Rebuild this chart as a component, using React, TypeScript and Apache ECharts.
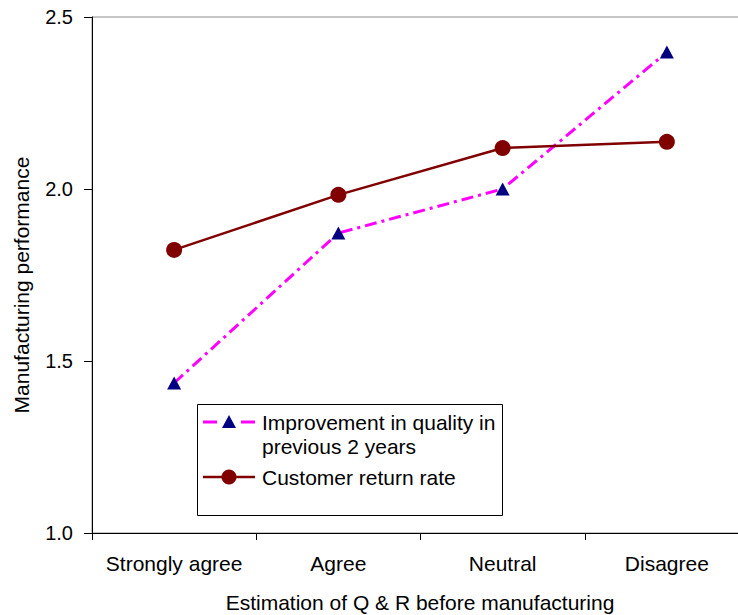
import React, { useEffect, useRef } from "react";
import * as echarts from "echarts";

const categories = ["Strongly agree", "Agree", "Neutral", "Disagree"];
const qualityImprovement = [1.436, 1.872, 2.0, 2.398];
const customerReturnRate = [1.823, 1.983, 2.119, 2.137];
const yTicks = [1.0, 1.5, 2.0, 2.5];

const FONT = "'Liberation Sans', Arial, Helvetica, sans-serif";
const MAGENTA = "#FF00FF";
const NAVY = "#000080";
const DARK_RED = "#800000";

export default function App() {
  const ref = useRef<HTMLDivElement | null>(null);

  useEffect(() => {
    if (!ref.current) return;
    const chart = echarts.init(ref.current, undefined, { renderer: "svg" });

    const legendText = (x: number, y: number, text: string) => ({
      type: "text",
      x,
      y,
      style: {
        text,
        fontFamily: FONT,
        fontSize: 21,
        fill: "#000",
        align: "left",
        verticalAlign: "middle",
      },
    });

    chart.setOption({
      animation: false,
      backgroundColor: "#fff",
      grid: {
        left: 92,
        top: 17,
        right: 11,
        bottom: 82,
        show: true,
        borderColor: "#8c8c8c",
        borderWidth: 1,
      },
      xAxis: {
        type: "category",
        data: categories,
        boundaryGap: true,
        axisLine: { show: true, lineStyle: { color: "#000", width: 1 } },
        axisTick: { show: true, length: 7, lineStyle: { color: "#000" } },
        axisLabel: {
          color: "#000",
          fontFamily: FONT,
          fontSize: 21,
          margin: 20,
          interval: 0,
        },
        splitLine: { show: false },
      },
      yAxis: {
        type: "value",
        min: yTicks[0],
        max: yTicks[yTicks.length - 1],
        interval: 0.5,
        axisLine: { show: true, lineStyle: { color: "#000", width: 1 } },
        axisTick: { show: true, length: 8, lineStyle: { color: "#000" } },
        axisLabel: {
          color: "#000",
          fontFamily: FONT,
          fontSize: 20,
          margin: 19,
          formatter: (v: number) => v.toFixed(1),
        },
        splitLine: { show: false },
      },
      series: [
        {
          name: "Improvement in quality in previous 2 years",
          type: "line",
          data: qualityImprovement,
          symbol: "triangle",
          symbolSize: [14, 13],
          itemStyle: { color: NAVY },
          lineStyle: { color: MAGENTA, width: 3, type: [12, 5, 3, 5] },
          z: 2,
        },
        {
          name: "Customer return rate",
          type: "line",
          data: customerReturnRate,
          symbol: "circle",
          symbolSize: 16,
          itemStyle: { color: DARK_RED },
          lineStyle: { color: DARK_RED, width: 2.5 },
          z: 3,
        },
      ],
      graphic: [
        // y axis title
        {
          type: "text",
          x: 21,
          y: 285,
          rotation: Math.PI / 2,
          style: {
            text: "Manufacturing performance",
            fontFamily: FONT,
            fontSize: 21,
            fill: "#000",
            align: "center",
            verticalAlign: "middle",
          },
        },
        // x axis title
        {
          type: "text",
          x: 420,
          y: 602,
          style: {
            text: "Estimation of Q & R before manufacturing",
            fontFamily: FONT,
            fontSize: 21,
            fill: "#000",
            align: "center",
            verticalAlign: "middle",
          },
        },
        // legend box
        {
          type: "rect",
          shape: { x: 197.5, y: 404.5, width: 305, height: 111 },
          style: { fill: "#fff", stroke: "#000", lineWidth: 1 },
          z: 10,
        },
        {
          type: "line",
          shape: { x1: 203, y1: 422, x2: 217, y2: 422 },
          style: { stroke: MAGENTA, lineWidth: 3 },
          z: 11,
        },
        {
          type: "line",
          shape: { x1: 241, y1: 422, x2: 255, y2: 422 },
          style: { stroke: MAGENTA, lineWidth: 3 },
          z: 11,
        },
        {
          type: "polygon",
          shape: { points: [[229, 415], [236, 428], [222, 428]] },
          style: { fill: NAVY },
          z: 11,
        },
        {
          type: "line",
          shape: { x1: 203, y1: 477, x2: 255, y2: 477 },
          style: { stroke: DARK_RED, lineWidth: 2.5 },
          z: 11,
        },
        {
          type: "circle",
          shape: { cx: 229, cy: 477, r: 7.5 },
          style: { fill: DARK_RED },
          z: 11,
        },
        { ...legendText(262, 422, "Improvement in quality in"), z: 11 },
        { ...legendText(262, 446, "previous 2 years"), z: 11 },
        { ...legendText(262, 477, "Customer return rate"), z: 11 },
      ],
    });

    return () => chart.dispose();
  }, []);

  return (
    <div
      ref={ref}
      style={{ position: "fixed", left: 0, top: 0, width: 760, height: 615 }}
    />
  );
}
